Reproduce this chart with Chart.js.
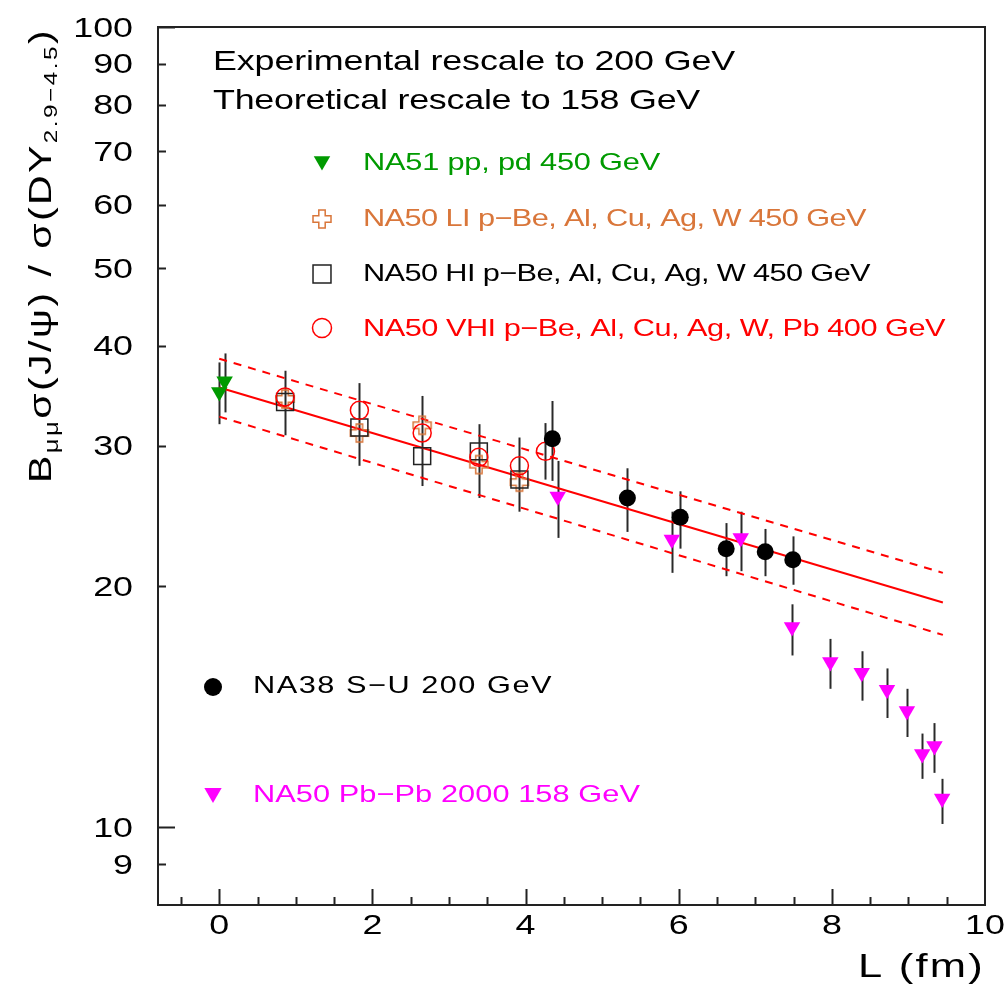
<!DOCTYPE html>
<html>
<head>
<meta charset="utf-8">
<script src="https://cdn.jsdelivr.net/npm/chart.js@4.4.0/dist/chart.umd.min.js"></script>
<style>
  html, body { margin: 0; padding: 0; background: #fff; }
  #wrap { width: 1006px; height: 996px; }
</style>
</head>
<body>
<div id="wrap"><canvas id="chart" width="1006" height="996"></canvas></div>
<script>
// NA51 pp, pd
const na51X = [0.0, 0.07];
const na51Y = [35.0, 36.1];
const na51Lo = [31.9, 33.0];
const na51Hi = [38.1, 39.1];

// NA50 LI (croix)
const liX = [0.86, 1.83, 2.65, 3.39, 3.92];
const liY = [34.3, 31.1, 31.8, 28.4, 27.0];

// NA50 HI (carrés) - porte les barres d'erreur
const hiX = [0.86, 1.83, 2.65, 3.39, 3.92];
const hiY = [34.0, 31.6, 29.1, 29.5, 27.2];
const hiLo = [30.9, 28.3, 26.7, 25.8, 24.8];
const hiHi = [37.2, 35.9, 34.6, 31.9, 30.7];

// NA50 VHI (cercles)
const vhiX = [0.86, 1.83, 2.65, 3.39, 3.92, 4.26];
const vhiY = [34.5, 33.2, 31.1, 29.0, 28.3, 29.5];
const vhiLo = [null, null, null, null, null, 27.2];
const vhiHi = [null, null, null, null, null, 32.0];

// NA38 S-U
const na38X = [4.35, 5.33, 6.02, 6.62, 7.13, 7.49];
const na38Y = [30.6, 25.8, 24.4, 22.3, 22.1, 21.6];
const na38Lo = [27.1, 23.4, 22.3, 20.6, 20.6, 20.1];
const na38Hi = [34.1, 28.1, 26.3, 24.0, 23.6, 23.1];

// NA50 Pb-Pb 2000
const pbX = [4.42, 5.91, 6.81, 7.48, 7.98, 8.39, 8.72, 8.98, 9.18, 9.34, 9.44];
const pbY = [25.9, 22.9, 23.0, 17.8, 16.1, 15.6, 14.86, 13.98, 12.35, 12.64, 10.87];
const pbLo = [23.0, 20.8, 20.9, 16.4, 14.9, 14.4, 13.7, 12.97, 11.5, 11.7, 10.1];
const pbHi = [28.7, 24.8, 24.8, 19.0, 17.2, 16.6, 15.8, 14.9, 13.1, 13.5, 11.5];

// Ajustement (ligne) et bande +- sigma
const fitX = [0, 9.45];
const fitY = [35.45, 19.1];
const fitUpY = [38.5, 20.8];
const fitDownY = [32.6, 17.4];

// Graduations
const xTickVals = [0, 2, 4, 6, 8, 10];
const yTickVals = [9, 10, 20, 30, 40, 50, 60, 70, 80, 90, 100];

const pts = (xs, ys) => xs.map((x, i) => ({ x: x, y: ys[i] }));

const FONT = '"Liberation Sans", Arial, sans-serif';
const SX = 1.28; // police ROOT plus large

// croix ouverte (marqueur 28 de ROOT)
function openCross(color) {
  const c = document.createElement('canvas');
  c.width = 22; c.height = 22;
  const g = c.getContext('2d');
  const m = 11, h = 9, a = 3.2;
  g.strokeStyle = color;
  g.lineWidth = 1.5;
  g.beginPath();
  g.moveTo(m - a, m - h); g.lineTo(m + a, m - h); g.lineTo(m + a, m - a);
  g.lineTo(m + h, m - a); g.lineTo(m + h, m + a); g.lineTo(m + a, m + a);
  g.lineTo(m + a, m + h); g.lineTo(m - a, m + h); g.lineTo(m - a, m + a);
  g.lineTo(m - h, m + a); g.lineTo(m - h, m - a); g.lineTo(m - a, m - a);
  g.closePath();
  g.stroke();
  return c;
}

const GREEN = '#009a00', ORANGE = '#d9763a', RED = '#ff0000', MAGENTA = '#ff00ff';
const crossImg = openCross(ORANGE);

// texte étiré comme ROOT
function rootText(ctx, str, x, y, size, width, color, align) {
  ctx.save();
  ctx.font = size + 'px ' + FONT;
  ctx.letterSpacing = '0px';
  const w0 = ctx.measureText(str).width * SX;
  const n = [...str].length;
  const ls = width ? (width - w0) / n : 0;
  const w = width || w0;
  const left = align === 'right' ? x - w : (align === 'center' ? x - w / 2 : x);
  ctx.translate(left, y);
  ctx.scale(SX, 1);
  ctx.letterSpacing = (ls / SX) + 'px';
  ctx.fillStyle = color;
  ctx.textBaseline = 'middle';
  ctx.textAlign = 'left';
  ctx.fillText(str, 0, 0);
  ctx.restore();
}

function marker(ctx, style, x, y) {
  ctx.save();
  ctx.fillStyle = style.fill || 'rgba(0,0,0,0)';
  ctx.strokeStyle = style.stroke || 'rgba(0,0,0,0)';
  ctx.lineWidth = style.borderWidth || 0;
  Chart.helpers.drawPoint(ctx, {
    pointStyle: style.pointStyle, radius: style.radius,
    rotation: style.rotation || 0, borderWidth: style.borderWidth || 0
  }, x, y);
  ctx.restore();
}

const errorBars = {
  id: 'errorBars',
  beforeDatasetsDraw(chart) {
    const ctx = chart.ctx, ys = chart.scales.y, a = chart.chartArea;
    ctx.save();
    ctx.beginPath();
    ctx.rect(a.left, a.top, a.right - a.left, a.bottom - a.top);
    ctx.clip();
    ctx.strokeStyle = '#2a2a2a';
    ctx.lineWidth = 2;
    chart.data.datasets.forEach((ds, di) => {
      if (!ds.errLo) return;
      const meta = chart.getDatasetMeta(di);
      meta.data.forEach((el, i) => {
        if (ds.errLo[i] == null) return;
        const x = Math.round(el.x) + 0.5;
        ctx.beginPath();
        ctx.moveTo(x, ys.getPixelForValue(ds.errLo[i]));
        ctx.lineTo(x, ys.getPixelForValue(ds.errHi[i]));
        ctx.stroke();
      });
    });
    ctx.restore();
  }
};

const frameAndText = {
  id: 'frameAndText',
  afterDraw(chart) {
    const ctx = chart.ctx, a = chart.chartArea;
    const xs = chart.scales.x, ys = chart.scales.y;
    ctx.save();
    ctx.strokeStyle = '#222';
    ctx.lineWidth = 2;
    ctx.strokeRect(a.left, a.top, a.right - a.left, a.bottom - a.top);

    // graduations x vers l'intérieur
    ctx.beginPath();
    for (let k = -1; k <= 19; k++) {
      const v = k * 0.5;
      const px = Math.round(xs.getPixelForValue(v)) + 0.5;
      const len = (k % 4 === 0) ? 16 : 8;
      ctx.moveTo(px, a.bottom);
      ctx.lineTo(px, a.bottom - len);
    }
    // graduations y
    ys.ticks.forEach(t => {
      const py = Math.round(ys.getPixelForValue(t.value)) + 0.5;
      const len = (t.value === 10 || t.value === 100) ? 17 : 8;
      ctx.moveTo(a.left, py);
      ctx.lineTo(a.left + len, py);
    });
    ctx.stroke();
    ctx.restore();

    // étiquettes
    xs.ticks.forEach(t => {
      rootText(ctx, String(t.value), xs.getPixelForValue(t.value), 926, 28, 0, '#000', 'center');
    });
    ys.ticks.forEach(t => {
      rootText(ctx, String(t.value), 133, ys.getPixelForValue(t.value) + 2, 28, 0, '#000', 'right');
    });

    // titre axe x
    rootText(ctx, 'L (fm)', 985, 968, 34, 127, '#000', 'right');

    // titre axe y (tourné)
    const segs = [['B', 32, 0], ['μμ', 20, 10], ['σ(J/ψ) / σ(DY', 32, 0], ['2.9−4.5', 19, 10], [')', 32, 0]];
    ctx.save();
    let total = 0, nch = 0;
    segs.forEach(s => {
      ctx.font = s[1] + 'px ' + FONT;
      ctx.letterSpacing = '0px';
      s.w = ctx.measureText(s[0]).width * SX;
      total += s.w; nch += [...s[0]].length;
    });
    const ls = (455 - total) / nch;
    ctx.translate(42, 483);
    ctx.rotate(-Math.PI / 2);
    let u = 0;
    segs.forEach(s => {
      ctx.save();
      ctx.translate(u, s[2]);
      ctx.scale(SX, 1);
      ctx.font = s[1] + 'px ' + FONT;
      ctx.letterSpacing = (ls / SX) + 'px';
      ctx.fillStyle = '#000';
      ctx.textBaseline = 'middle';
      ctx.fillText(s[0], 0, 0);
      ctx.restore();
      u += s.w + ls * [...s[0]].length;
    });
    ctx.restore();

    // textes et légende
    rootText(ctx, 'Experimental rescale to 200 GeV', 213, 62, 28, 522, '#000');
    rootText(ctx, 'Theoretical rescale to 158 GeV', 213, 101, 28, 487, '#000');

    marker(ctx, { pointStyle: 'triangle', radius: 9.5, rotation: 180, fill: GREEN }, 322, 161);
    rootText(ctx, 'NA51 pp, pd 450 GeV', 363, 163, 24, 297, GREEN);
    marker(ctx, { pointStyle: crossImg }, 322, 219);
    rootText(ctx, 'NA50 LI p−Be, Al, Cu, Ag, W 450 GeV', 363, 219, 24, 503, ORANGE);
    marker(ctx, { pointStyle: 'rect', radius: 12.7, stroke: '#222', borderWidth: 1.5 }, 322, 274);
    rootText(ctx, 'NA50 HI p−Be, Al, Cu, Ag, W 450 GeV', 363, 274, 24, 507, '#000');
    marker(ctx, { pointStyle: 'circle', radius: 9.5, stroke: RED, borderWidth: 1.5 }, 322, 328);
    rootText(ctx, 'NA50 VHI p−Be, Al, Cu, Ag, W, Pb 400 GeV', 363, 329, 24, 582, RED);

    marker(ctx, { pointStyle: 'circle', radius: 9, fill: '#000' }, 213, 687);
    rootText(ctx, 'NA38 S−U 200 GeV', 253, 686, 24, 300, '#000');
    marker(ctx, { pointStyle: 'triangle', radius: 10, rotation: 180, fill: MAGENTA }, 213, 793);
    rootText(ctx, 'NA50 Pb−Pb 2000 158 GeV', 253, 795, 24, 387, MAGENTA);
  }
};

new Chart(document.getElementById('chart').getContext('2d'), {
  type: 'scatter',
  data: {
    datasets: [
      { label: 'NA50 Pb-Pb 2000 158 GeV', data: pts(pbX, pbY), errLo: pbLo, errHi: pbHi,
        pointStyle: 'triangle', rotation: 180, radius: 9.5, backgroundColor: MAGENTA, borderWidth: 0 },
      { label: 'NA38 S-U 200 GeV', data: pts(na38X, na38Y), errLo: na38Lo, errHi: na38Hi,
        pointStyle: 'circle', radius: 8.5, backgroundColor: '#000', borderWidth: 0 },
      { label: 'NA51 pp, pd 450 GeV', data: pts(na51X, na51Y), errLo: na51Lo, errHi: na51Hi,
        pointStyle: 'triangle', rotation: 180, radius: 9.5, backgroundColor: GREEN, borderWidth: 0 },
      { label: 'NA50 VHI', data: pts(vhiX, vhiY), errLo: vhiLo, errHi: vhiHi,
        pointStyle: 'circle', radius: 9, backgroundColor: 'rgba(0,0,0,0)', borderColor: RED, borderWidth: 1.5 },
      { label: 'NA50 HI', data: pts(hiX, hiY), errLo: hiLo, errHi: hiHi,
        pointStyle: 'rect', radius: 12, backgroundColor: 'rgba(0,0,0,0)', borderColor: '#222', borderWidth: 1.5 },
      { label: 'NA50 LI', data: pts(liX, liY),
        pointStyle: crossImg, radius: 9 },
      { label: 'fit', type: 'line', data: pts(fitX, fitY), showLine: true,
        borderColor: RED, borderWidth: 2, pointRadius: 0, fill: false },
      { label: 'fit +', type: 'line', data: pts(fitX, fitUpY), showLine: true,
        borderColor: RED, borderWidth: 2, borderDash: [8, 7], pointRadius: 0, fill: false },
      { label: 'fit -', type: 'line', data: pts(fitX, fitDownY), showLine: true,
        borderColor: RED, borderWidth: 2, borderDash: [8, 7], pointRadius: 0, fill: false }
    ]
  },
  options: {
    responsive: false,
    animation: false,
    devicePixelRatio: 1,
    layout: { padding: { left: 0, top: 27, right: 21, bottom: 0 } },
    plugins: { legend: { display: false }, tooltip: { enabled: false } },
    scales: {
      x: {
        type: 'linear', min: -0.8, max: 10,
        grid: { display: false }, border: { display: false },
        ticks: { display: false },
        afterBuildTicks: s => { s.ticks = xTickVals.map(v => ({ value: v })); },
        afterFit: s => { s.height = 91; }
      },
      y: {
        type: 'logarithmic', min: 8, max: 100,
        grid: { display: false }, border: { display: false },
        ticks: { display: false },
        afterBuildTicks: s => { s.ticks = yTickVals.map(v => ({ value: v })); },
        afterFit: s => { s.width = 158; }
      }
    }
  },
  plugins: [errorBars, frameAndText]
});
</script>
</body>
</html>
